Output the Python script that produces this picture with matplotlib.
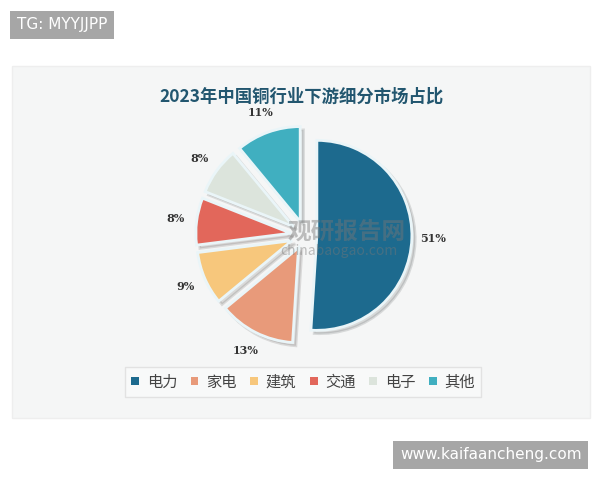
import matplotlib.pyplot as plt
from matplotlib.patches import Rectangle, Patch

plt.rcParams['font.family'] = ['Noto Sans CJK SC', 'DejaVu Sans']

# data
categories = ['电力', '家电', '建筑', '交通', '电子', '其他']
shares = [51, 13, 9, 8, 8, 11]
colors = ['#1d6a8e', '#e89a7a', '#f7c77c', '#e2675b', '#dce4dc', '#40afc0']
title = '2023年中国铜行业下游细分市场占比'

fig = plt.figure(figsize=(6, 4.8), dpi=100)
fig.patch.set_facecolor('white')

# chart panel (behind the pie)
fig.patches.append(Rectangle((12 / 600, 1 - 418 / 480), 578 / 600, 352 / 480,
                             transform=fig.transFigure, facecolor='#f5f6f6',
                             edgecolor='#eeeeee', lw=1, zorder=-10))

ax = fig.add_axes([0.255, 0.1938, 0.5067, 0.6333])
ax.set_zorder(1)
wedges, texts, autotexts = ax.pie(
    shares, colors=colors, startangle=90, counterclock=False,
    explode=[0.125, 0.15, 0.15, 0.15, 0.15, 0.15], autopct='%d%%', pctdistance=1.22,
    wedgeprops=dict(edgecolor='#eaf5f8', linewidth=2),
    shadow=dict(ox=0.025, oy=-0.025, shade=0.9, alpha=0.12),
    textprops=dict(fontsize=8, fontweight='bold', color='#333333',
                   family='DejaVu Serif'))
ax.set_xlim(-1.6, 1.6)
ax.set_ylim(-1.6, 1.6)
ax.set_aspect('equal')
ax.axis('off')

fig.text(0.502, 1 - 97 / 480, title, ha='center', va='center', fontsize=12.5,
         fontweight='bold', color='#22566f')

# watermark
fig.text(0.578, 1 - 232 / 480, '观研报告网', ha='center', va='center',
         fontsize=17, fontweight='bold', color='#777777', alpha=0.45, zorder=5)
fig.text(0.565, 1 - 251 / 480, 'chinabaogao.com', ha='center', va='center',
         fontsize=10, color='#777777', alpha=0.45, zorder=5)

handles = [Patch(facecolor=c, edgecolor='none') for c in colors]
leg = fig.legend(handles, categories, loc='center', bbox_to_anchor=(0.505, 1 - 382 / 480),
                 ncol=6, fontsize=11, frameon=True, fancybox=False,
                 handlelength=0.5, handleheight=0.5, handletextpad=0.5,
                 columnspacing=0.9, borderpad=0.4)
leg.get_frame().set_edgecolor('#dddddd')
leg.get_frame().set_facecolor('#fafafa')
for t in leg.get_texts():
    t.set_color('#444444')

fig.text(0.028, 1 - 25 / 480, 'TG: MYYJJPP', ha='left', va='center', fontsize=11,
         color='white', family='DejaVu Sans',
         bbox=dict(boxstyle='square,pad=0.45', facecolor='#a6a6a6', edgecolor='none'))
fig.text(0.818, 1 - 455 / 480, 'www.kaifaancheng.com', ha='center', va='center',
         fontsize=11, color='white', family='DejaVu Sans',
         bbox=dict(boxstyle='square,pad=0.45', facecolor='#a6a6a6', edgecolor='none'))

fig.savefig('out.png', dpi=100)
